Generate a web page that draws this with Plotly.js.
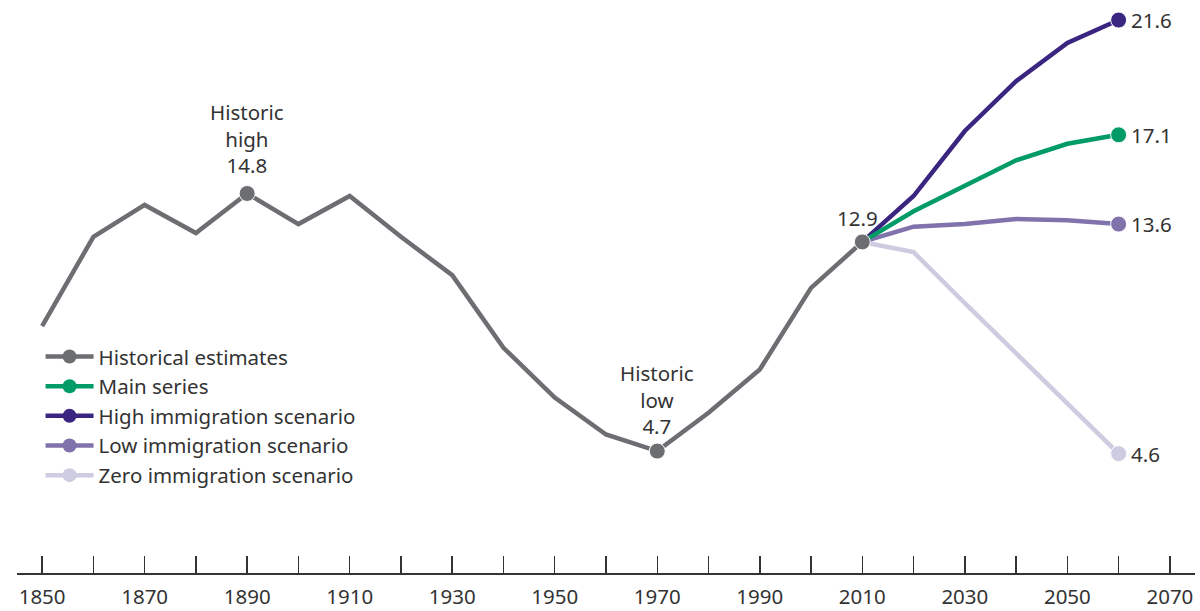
<!DOCTYPE html>
<html>
<head>
<meta charset="utf-8">
<script src="https://cdn.plot.ly/plotly-3.0.1.min.js"></script>
<style>
  html, body { margin: 0; padding: 0; background: #fff; }
  #chart { width: 1200px; height: 611px; }
</style>
</head>
<body>
<div id="chart"></div>
<script>
'use strict'

// Historical estimates (decades)
const histYears = [1850,1860,1870,1880,1890,1900,1910,1920,1930,1940,1950,1960,1970,1980,1990,2000,2010];
const histValues = [9.6,13.1,14.35,13.25,14.8,13.6,14.7,13.1,11.6,8.75,6.8,5.35,4.7,6.2,7.9,11.1,12.9];

// Projections
const projYears = [2010,2020,2030,2040,2050,2060];
const mainValues = [12.9,14.1,15.1,16.1,16.75,17.1];
const highValues = [12.9,14.7,17.25,19.2,20.7,21.6];
const lowValues  = [12.9,13.5,13.6,13.8,13.75,13.6];
const zeroValues = [12.9,12.5,10.5,8.55,6.6,4.6];

// Axis ticks
const tickYears = [1850,1860,1870,1880,1890,1900,1910,1920,1930,1940,1950,1960,1970,1980,1990,2000,2010,2020,2030,2040,2050,2060,2070];
const tickLabels = ['1850','','1870','','1890','','1910','','1930','','1950','','1970','','1990','','2010','','2030','','2050','','2070'];

const markedYears = [1890, 1970, 2010];

const FONT = '"Noto Sans", "Open Sans", sans-serif';
const TEXT = '#333333';
const MSIZE = 16;
const FSIZE = 20.5;

const series = [
    { name: 'Historical estimates', color: '#6d6e71' },
    { name: 'Main series', color: '#009b67', values: mainValues },
    { name: 'High immigration scenario', color: '#3a2680', values: highValues },
    { name: 'Low immigration scenario', color: '#8072ab', values: lowValues },
    { name: 'Zero immigration scenario', color: '#cdcce0', values: zeroValues }
];

let lineTrace = function(xs, ys, color, sizes) {
    return {
        x: xs,
        y: ys,
        mode: 'lines+markers',
        line: { color: color, width: 4.5 },
        marker: { color: color, opacity: 1, size: sizes },
        showlegend: false,
        cliponaxis: false,
        hoverinfo: 'skip',
        type: 'scatter'
    }
}

// projections drawn bottom-up (zero first), historical last so its marker sits on top
const traces = [];
series.slice(1).reverse().forEach(s => {
    traces.push(lineTrace(projYears, s.values, s.color,
        projYears.map((y, i) => i === projYears.length - 1 ? MSIZE : 0)));
});
traces.push(lineTrace(histYears, histValues, series[0].color,
    histYears.map(y => markedYears.includes(y) ? MSIZE : 0)));

// legend-only entries
series.forEach((s, i) => {
    traces.push({
        x: [null],
        y: [null],
        name: s.name,
        mode: 'lines+markers',
        line: { color: s.color, width: 4.5 },
        marker: { color: s.color, size: 14 },
        legendrank: i + 1,
        type: 'scatter'
    });
});

let histAt = year => histValues[histYears.indexOf(year)];
let last = arr => arr[arr.length - 1];

const annFont = { family: FONT, size: FSIZE, color: TEXT };
const annotations = [
    { x: 1890, y: histAt(1890), text: 'Historic<br>high<br>' + histAt(1890).toFixed(1), xanchor: 'center', yanchor: 'bottom', yshift: 12 },
    { x: 1970, y: histAt(1970), text: 'Historic<br>low<br>' + histAt(1970).toFixed(1), xanchor: 'center', yanchor: 'bottom', yshift: 9 },
    { x: 2010, y: histAt(2010), text: histAt(2010).toFixed(1), xanchor: 'center', yanchor: 'bottom', xshift: -5, yshift: 8 },
    { x: 2060, y: last(highValues), text: last(highValues).toFixed(1), xanchor: 'left', yanchor: 'middle', xshift: 10 },
    { x: 2060, y: last(mainValues), text: last(mainValues).toFixed(1), xanchor: 'left', yanchor: 'middle', xshift: 10 },
    { x: 2060, y: last(lowValues), text: last(lowValues).toFixed(1), xanchor: 'left', yanchor: 'middle', xshift: 10 },
    { x: 2060, y: last(zeroValues), text: last(zeroValues).toFixed(1), xanchor: 'left', yanchor: 'middle', xshift: 10 }
].map(a => Object.assign({ xref: 'x', yref: 'y', showarrow: false, font: annFont }, a));

const layout = {
    width: 1200,
    height: 611,
    margin: { l: 17, r: 5, t: 5, b: 38 },
    paper_bgcolor: '#ffffff',
    plot_bgcolor: '#ffffff',
    font: { family: FONT, size: FSIZE, color: TEXT },
    showlegend: true,
    legend: {
        x: 0.02,
        y: 0.416,
        xanchor: 'left',
        yanchor: 'top',
        bgcolor: 'rgba(0,0,0,0)',
        itemwidth: 48,
        font: { family: FONT, size: FSIZE, color: TEXT }
    },
    xaxis: {
        range: [1845.1, 2074.9],
        tickmode: 'array',
        tickvals: tickYears,
        ticktext: tickLabels,
        ticks: 'inside',
        ticklen: 17,
        tickwidth: 1.5,
        tickcolor: TEXT,
        ticklabelstandoff: 5,
        showline: true,
        linecolor: TEXT,
        linewidth: 1.5,
        showgrid: false,
        zeroline: false,
        fixedrange: true,
        tickfont: { family: FONT, size: FSIZE, color: TEXT }
    },
    yaxis: {
        range: [-0.08, 22.19],
        visible: false,
        showgrid: false,
        zeroline: false,
        fixedrange: true
    },
    annotations: annotations
};

Plotly.newPlot('chart', traces, layout, { displayModeBar: false, staticPlot: true });
</script>
</body>
</html>
